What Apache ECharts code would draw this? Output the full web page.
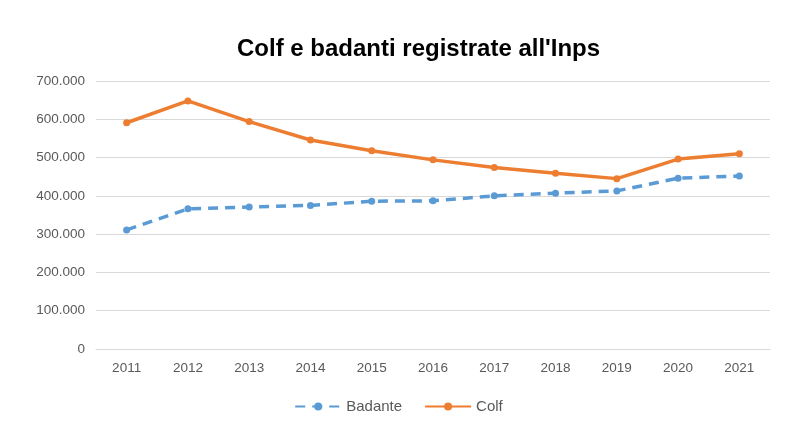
<!DOCTYPE html>
<html>
<head>
<meta charset="utf-8">
<script src="https://cdn.jsdelivr.net/npm/echarts@6/dist/echarts.min.js"></script>
<style>html,body{margin:0;padding:0;background:#fff}#c{width:797px;height:431px}</style>
</head>
<body>
<div id="c"></div>
<script>
const years = ['2011','2012','2013','2014','2015','2016','2017','2018','2019','2020','2021'];
const badante = [311000, 366000, 371000, 375000, 386000, 387000, 400000, 407000, 413000, 446000, 452000];
const colf = [591000, 648000, 594000, 546000, 518000, 494000, 474000, 459000, 445000, 496000, 510000];
const chart = echarts.init(document.getElementById('c'));
const fmt = v => v === 0 ? '0' : String(v).replace(/\B(?=(\d{3})+(?!\d))/g, '.');
chart.setOption({
  animation: false,
  title: {
    text: "Colf e badanti registrate all'Inps",
    left: 232, top: 32,
    textStyle: {fontFamily: 'Liberation Sans, Arial', fontSize: 24, fontWeight: 'bold', color: '#000'}
  },
  legend: {
    data: ['Badante', 'Colf'],
    bottom: 12, left: 'center',
    itemWidth: 46, itemHeight: 10, itemGap: 22,
    textStyle: {fontFamily: 'Liberation Sans, Arial', fontSize: 15, color: '#595959'}
  },
  grid: {left: 96, right: 27, top: 81, bottom: 82},
  xAxis: {
    type: 'category', data: years, boundaryGap: true,
    axisLine: {lineStyle: {color: '#d9d9d9'}},
    axisTick: {show: false},
    axisLabel: {fontFamily: 'Liberation Sans, Arial', fontSize: 13.5, color: '#595959', margin: 12}
  },
  yAxis: {
    type: 'value', min: 0, max: 700000, interval: 100000,
    axisLabel: {formatter: fmt, fontFamily: 'Liberation Sans, Arial', fontSize: 13.5, color: '#595959', margin: 11},
    splitLine: {lineStyle: {color: '#d9d9d9'}},
    axisLine: {show: false}, axisTick: {show: false}
  },
  series: [
    {
      name: 'Badante', type: 'line', data: badante,
      symbol: 'circle', symbolSize: 7,
      itemStyle: {color: '#5B9BD5'},
      lineStyle: {color: '#5B9BD5', width: 3.5, type: [10, 7]}
    },
    {
      name: 'Colf', type: 'line', data: colf,
      symbol: 'circle', symbolSize: 7,
      itemStyle: {color: '#ED7D31'},
      lineStyle: {color: '#ED7D31', width: 3.5}
    }
  ]
});
</script>
</body>
</html>
